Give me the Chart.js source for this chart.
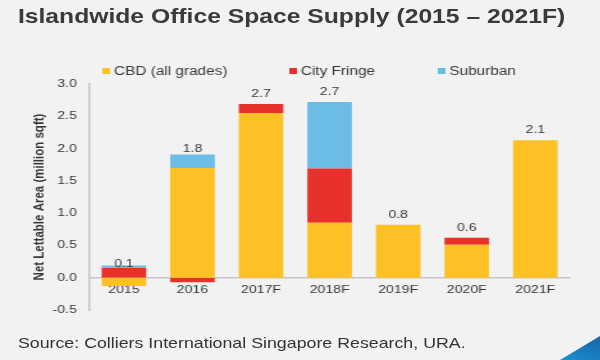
<!DOCTYPE html>
<html>
<head>
<meta charset="utf-8">
<script src="https://cdn.jsdelivr.net/npm/chart.js@4/dist/chart.umd.min.js"></script>
<style>
  html, body { margin: 0; padding: 0; background: #f2f2f2; }
  #page { position: relative; width: 600px; height: 360px; overflow: hidden; background: #f2f2f2; }
  /* the original picture is stretched sideways, so draw narrow and stretch */
  #wrap { position: absolute; left: 0; top: 0; width: 469px; height: 360px;
          transform: scaleX(1.28); transform-origin: 0 0; }
  #title { position: absolute; left: 14px; top: 6px; margin: 0;
           font: bold 19.3px "Liberation Sans", Arial, sans-serif; color: #3a3a3a; white-space: nowrap; }
  #source { position: absolute; left: 14px; top: 335px;
            font: 13.9px "Liberation Sans", Arial, sans-serif; color: #333; white-space: nowrap; }
  #chartBox { position: absolute; left: 0; top: 0; width: 469px; height: 360px; }
  #corner { position: absolute; right: 0; bottom: 0; width: 40px; height: 24px;
            background: linear-gradient(200deg, #1565a8, #1c8fd0);
            clip-path: polygon(100% 0, 100% 100%, 0 100%); }
</style>
</head>
<body>
<div id="page">
  <div id="wrap">
    <div id="chartBox"><canvas id="supplyChart" width="469" height="360"></canvas></div>
    <h1 id="title">Islandwide Office Space Supply (2015 – 2021F)</h1>
    <div id="source">Source: Colliers International Singapore Research, URA.</div>
  </div>
  <div id="corner"></div>
</div>
<script>
const years = ["2015", "2016", "2017F", "2018F", "2019F", "2020F", "2021F"];
const cbd = [-0.13, 1.70, 2.55, 0.85, 0.82, 0.51, 2.13];
const cityFringe = [0.15, -0.07, 0.14, 0.84, 0, 0.11, 0];
const suburban = [0.04, 0.21, 0, 1.03, 0, 0, 0];
const seriesNames = ["CBD (all grades)", "City Fringe", "Suburban"];
const seriesColors = ["#fdc125", "#e8312a", "#6bbde6"];
const yTicks = [-0.5, 0, 0.5, 1, 1.5, 2, 2.5, 3];

const totals = years.map((y, i) => cbd[i] + cityFringe[i] + suburban[i]);
const textColor = "#383838";
const fontFamily = "'Liberation Sans', Arial, sans-serif";

// total above each stack
const totalLabels = {
    id: "totalLabels",
    afterDatasetsDraw(chart) {
        const ctx = chart.ctx;
        const x = chart.scales.x, y = chart.scales.y;
        ctx.save();
        ctx.font = "11px " + fontFamily;
        ctx.fillStyle = textColor;
        ctx.textAlign = "center";
        ctx.textBaseline = "middle";
        totals.forEach((t, i) => {
            ctx.fillText(t.toFixed(1), x.getPixelForValue(i), y.getPixelForValue(t) - 10);
        });
        ctx.restore();
    }
};

// legend row, drawn by hand so the gaps can match
const legendRow = {
    id: "legendRow",
    afterDraw(chart) {
        const ctx = chart.ctx;
        const starts = [80, 226, 342];
        ctx.save();
        ctx.font = "12px " + fontFamily;
        ctx.textBaseline = "middle";
        seriesNames.forEach((name, i) => {
            ctx.fillStyle = seriesColors[i];
            ctx.fillRect(starts[i], 68, 6, 6);
            ctx.fillStyle = textColor;
            ctx.fillText(name, starts[i] + 9, 71.5);
        });
        ctx.restore();
    }
};

new Chart(document.getElementById("supplyChart").getContext("2d"), {
    type: "bar",
    data: {
        labels: years,
        datasets: [
            { label: seriesNames[0], data: cbd, backgroundColor: seriesColors[0] },
            { label: seriesNames[1], data: cityFringe, backgroundColor: seriesColors[1] },
            { label: seriesNames[2], data: suburban, backgroundColor: seriesColors[2] }
        ]
    },
    options: {
        responsive: false,
        animation: false,
        layout: { padding: { left: 0, right: 24, top: 84, bottom: 50 } },
        datasets: { bar: { barPercentage: 0.65, categoryPercentage: 1, borderWidth: 0 } },
        plugins: {
            legend: { display: false },
            title: { display: false },
            tooltip: { enabled: false }
        },
        scales: {
            x: {
                stacked: true,
                position: { y: 0 },
                grid: { display: false, drawTicks: false },
                border: { display: true, color: "#c6c6c6", width: 1.5 },
                ticks: { color: textColor, font: { family: fontFamily, size: 11 }, padding: 6, maxRotation: 0 }
            },
            y: {
                stacked: true,
                min: -0.5,
                max: 3,
                afterFit(s) { s.width = 70; },
                afterBuildTicks(s) { s.ticks = yTicks.map(v => ({ value: v })); },
                grid: { display: false, drawTicks: false },
                border: { display: true, color: "#c6c6c6", width: 1.5 },
                ticks: {
                    color: textColor,
                    font: { family: fontFamily, size: 11 },
                    padding: 10,
                    callback: v => v.toFixed(1)
                },
                title: {
                    display: true,
                    text: "Net Lettable Area (million sqft)",
                    color: textColor,
                    font: { family: "'Liberation Sans Narrow', 'Arial Narrow', " + fontFamily, size: 11.5, weight: "bold" },
                    padding: { top: 24, bottom: 0 }
                }
            }
        }
    },
    plugins: [totalLabels, legendRow]
});
</script>
</body>
</html>
